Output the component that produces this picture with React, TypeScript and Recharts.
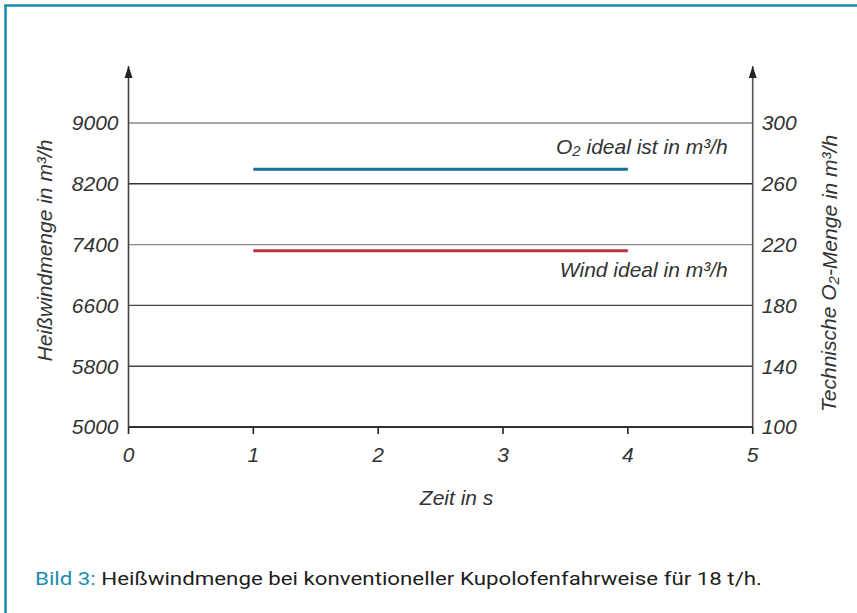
import React from "react";
import { LineChart, Line, XAxis, YAxis, ReferenceLine, ReferenceDot } from "recharts";

// ---- data ----
const timeValues = [1, 4];
const windIdeal = [7320, 7320];
const o2Ideal = [269.5, 269.5];
const xTicks = [0, 1, 2, 3, 4, 5];
const leftTicks = [5000, 5800, 6600, 7400, 8200, 9000];
const rightTicks = [100, 140, 180, 220, 260, 300];
const leftDomain = [5000, 9750];
const rightDomain = [100, 337.5];

const data = timeValues.map((t, i) => ({ t, wind: windIdeal[i], o2: o2Ideal[i] }));

const FONT = "'Liberation Sans', Arial, Helvetica, sans-serif";
const TXT = "#333";
const TEAL = "#1a8db0";
const FS = 21;
const gridColors = ["#333", "#444", "#444", "#8a8a8a", "#333", "#8a8a8a"];

const tickStyle = { fontFamily: FONT, fontStyle: "italic", fontSize: FS, fill: TXT };
const textStyle = { fontFamily: FONT, fontStyle: "italic", fontSize: FS, fill: TXT };

const Arrow = (p: any) => (
  <path d={`M${p.cx},${p.cy} l-4,12 l8,0 z`} fill="#222" />
);

const LeftTitle = (props: any) => {
  const vb = props.viewBox;
  const x = vb.x + 44;
  const y = vb.y + vb.height / 2 + 4;
  return (
    <text x={x} y={y} transform={`rotate(-90 ${x} ${y})`} textAnchor="middle" dominantBaseline="central" style={textStyle}>
      Heißwindmenge in m³/h
    </text>
  );
};

const RightTitle = (props: any) => {
  const vb = props.viewBox;
  const x = vb.x + 76;
  const y = vb.y + vb.height / 2 + 27;
  return (
    <text x={x} y={y} transform={`rotate(-90 ${x} ${y})`} textAnchor="middle" dominantBaseline="central" style={textStyle}>
      Technische O<tspan fontSize={15} dy={4}>2</tspan><tspan dy={-4}>-Menge in m³/h</tspan>
    </text>
  );
};

const XTitle = (props: any) => {
  const vb = props.viewBox;
  return (
    <text x={vb.x + vb.width / 2 + 16} y={vb.y + 70} textAnchor="middle" dominantBaseline="central" style={textStyle}>
      Zeit in s
    </text>
  );
};

const O2Label = (p: any) => (
  <text x={p.cx} y={p.cy - 23} textAnchor="end" dominantBaseline="central" style={textStyle}>
    O<tspan fontSize={15} dy={4}>2</tspan><tspan dy={-4}> ideal ist in m³/h</tspan>
  </text>
);

const WindLabel = (p: any) => (
  <text x={p.cx} y={p.cy + 19} textAnchor="end" dominantBaseline="central" style={textStyle}>
    Wind ideal in m³/h
  </text>
);

export default function App() {
  return (
    <div style={{ position: "absolute", left: 0, top: 0, width: 857, height: 613, background: "#fff" }}>
      <svg width={857} height={613} style={{ position: "absolute", left: 0, top: 0 }}>
        <line x1={5.5} y1={5} x2={5.5} y2={613} stroke={TEAL} strokeWidth={2.5} />
        <line x1={4.25} y1={5.5} x2={857} y2={5.5} stroke={TEAL} strokeWidth={2.5} />
        <text x={35} y={585} textLength={727} lengthAdjust="spacingAndGlyphs"
          style={{ fontFamily: "Roboto, 'Liberation Sans', sans-serif", fontSize: 18.5, fontWeight: 400 }}>
          <tspan fill={TEAL}>Bild 3:</tspan>
          <tspan fill="#1e1e1e"> Heißwindmenge bei konventioneller Kupolofenfahrweise für 18 t/h.</tspan>
        </text>
      </svg>
      <div style={{ position: "absolute", left: 0, top: 0 }}>
        <LineChart width={857} height={613} data={data}
          margin={{ top: 66, right: 24.3, left: 0, bottom: 146 }}>
          {leftTicks.map((v, i) => (
            <ReferenceLine key={v} yAxisId="left" y={v} stroke={gridColors[i]} strokeWidth={1.4} ifOverflow="visible" />
          ))}
          <XAxis dataKey="t" type="number" domain={[0, 5]} ticks={xTicks} axisLine={{ stroke: "#222", strokeWidth: 1.6 }}
            tickLine={{ stroke: "#222", strokeWidth: 1.6 }} tickSize={7} tickMargin={13} tick={tickStyle} height={40}
            interval={0} allowDecimals={false} label={<XTitle />} />
          <YAxis yAxisId="left" type="number" domain={leftDomain} ticks={leftTicks} width={128.5}
            axisLine={{ stroke: "#444", strokeWidth: 1.6 }} tickLine={false} tickSize={0} tickMargin={10}
            tick={tickStyle} interval={0} allowDataOverflow label={<LeftTitle />} />
          <YAxis yAxisId="right" orientation="right" type="number" domain={rightDomain} ticks={rightTicks} width={80}
            axisLine={{ stroke: "#555", strokeWidth: 1.6 }} tickLine={false} tickSize={0} tickMargin={9}
            tick={tickStyle} interval={0} allowDataOverflow label={<RightTitle />} />
          <Line yAxisId="left" dataKey="wind" stroke="#b8313b" strokeWidth={3} dot={false} isAnimationActive={false} />
          <Line yAxisId="right" dataKey="o2" stroke="#16709a" strokeWidth={3} dot={false} isAnimationActive={false} />
          <ReferenceDot yAxisId="left" x={0} y={leftDomain[1]} r={0} ifOverflow="visible" shape={Arrow} />
          <ReferenceDot yAxisId="right" x={5} y={rightDomain[1]} r={0} ifOverflow="visible" shape={Arrow} />
          <ReferenceDot yAxisId="right" x={4.8} y={o2Ideal[1]} r={0} ifOverflow="visible" shape={O2Label} />
          <ReferenceDot yAxisId="left" x={4.8} y={windIdeal[1]} r={0} ifOverflow="visible" shape={WindLabel} />
        </LineChart>
      </div>
    </div>
  );
}
